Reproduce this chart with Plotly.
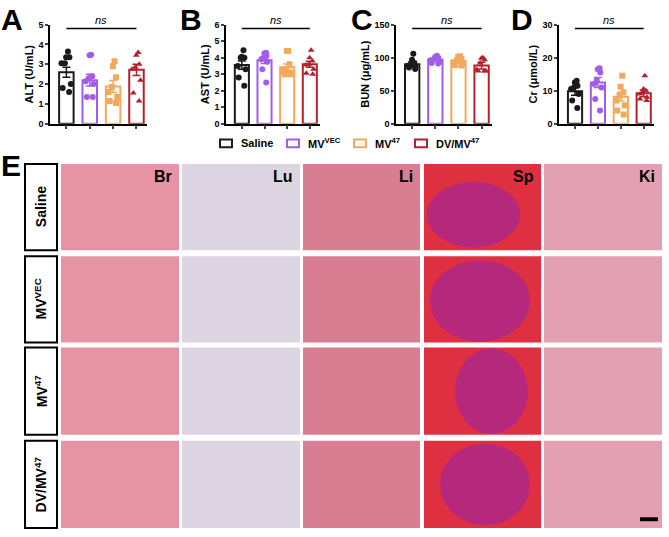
import plotly.graph_objects as go

W, H = 669, 537

groups = ["Saline", "MV<sup>VEC</sup>", "MV<sup>47</sup>", "DV/MV<sup>47</sup>"]
colors = ["#1a1a1a", "#A35BEA", "#F2A95C", "#B3222C"]
symbols = ["circle", "circle", "square", "triangle-up"]

# ALT (U/mL)
alt_mean = [2.6, 2.2, 1.88, 2.72]
alt_sem = [0.25, 0.3, 0.3, 0.28]
alt_pts = [
    [3.65, 3.35, 3.35, 3.05, 3.05, 2.0, 1.8, 1.6],
    [3.48, 3.45, 2.4, 2.3, 2.15, 2.0, 1.35, 1.35],
    [3.15, 2.9, 2.35, 1.85, 1.6, 1.35, 1.15, 1.05],
    [3.6, 3.45, 3.0, 2.85, 2.75, 2.2, 1.55, 1.15],
]
# AST (U/mL)
ast_mean = [3.55, 3.85, 3.42, 3.6]
ast_sem = [0.25, 0.2, 0.2, 0.18]
ast_pts = [
    [4.45, 4.05, 4.0, 4.0, 3.5, 3.3, 2.8, 2.3],
    [4.3, 4.25, 4.1, 4.0, 3.9, 3.75, 3.3, 2.5],
    [4.4, 4.4, 3.6, 3.3, 3.2, 3.1, 3.0, 3.0],
    [4.45, 4.0, 3.8, 3.6, 3.55, 3.3, 3.05, 3.0],
]
# BUN (ug/mL)
bun_mean = [90, 97, 95, 88]
bun_sem = [4, 2, 3, 5]
bun_pts = [
    [106, 97, 92, 90, 88, 86, 85, 83],
    [103, 101, 100, 98, 96, 94, 92, 91],
    [102, 101, 98, 96, 93, 91, 89, 88],
    [100, 99, 97, 92, 82, 80, 80, 80],
]
# Cr (umol/L)
cr_mean = [9.8, 12.5, 8.2, 9.2]
cr_sem = [1.2, 1.5, 1.3, 1.0]
cr_pts = [
    [13, 12.5, 11.5, 11, 10.5, 9, 7, 4.8],
    [16.8, 16.5, 15.5, 13.2, 12, 11, 7.5, 4],
    [14.5, 11.2, 9.5, 8.5, 7, 5.5, 4, 2.8],
    [14.5, 10.5, 10, 9.5, 9, 8, 7.5, 7],
]

panels = [
    ("A", "ALT (U/mL)", 5, 1, alt_mean, alt_sem, alt_pts, 50, 147, 12),
    ("B", "AST (U/mL)", 6, 1, ast_mean, ast_sem, ast_pts, 226, 320, 191),
    ("C", "BUN (μg/mL)", 150, 50, bun_mean, bun_sem, bun_pts, 396, 492, 362),
    ("D", "Cr (μmol/L)", 30, 10, cr_mean, cr_sem, cr_pts, 559, 654, 522),
]

organs = ["Br", "Lu", "Li", "Sp", "Ki"]
organ_colors = ["#E593A5", "#DDD6E2", "#D97D93", "#DE3040", "#E3A0B3"]
col_x = [(61, 179), (182, 300), (303, 420), (424, 541), (544, 662)]
row_y = [(162, 250), (256, 344), (349, 438), (444, 533)]
spleen_blob = [(427, 180, 520, 247), (430, 260, 530, 343), (455, 350, 528, 437), (440, 447, 530, 530)]

FONT = "Arial, Liberation Sans, sans-serif"


def px(x):
    return x / W


def py(y):
    return 1 - y / H


def note(x, y, text, size, **kw):
    d = dict(x=x, y=y, xref="paper", yref="paper", text=text, showarrow=False,
             xanchor="center", yanchor="middle",
             font=dict(size=size, family=FONT, color="black", weight="bold"))
    d.update(kw)
    return d


fig = go.Figure()
shapes = []
annotations = []
layout = {}

for i, (letter, title, ymax, dtick, mean, sem, pts, x0, x1, lx) in enumerate(panels):
    n = "" if i == 0 else str(i + 1)
    xa, ya = "x" + n, "y" + n
    for g in range(4):
        fig.add_trace(go.Bar(
            x=[groups[g]], y=[mean[g]], xaxis=xa, yaxis=ya, width=0.62,
            marker=dict(color="white", line=dict(color=colors[g], width=2)),
            error_y=dict(type="data", array=[sem[g]], color=colors[g], thickness=1.5, width=4),
            showlegend=False,
        ))
    for g in range(4):
        fig.add_trace(go.Box(
            x=[groups[g]] * len(pts[g]), y=pts[g], xaxis=xa, yaxis=ya,
            boxpoints="all", jitter=0.9, pointpos=0, width=0.55,
            fillcolor="rgba(0,0,0,0)", line=dict(color="rgba(0,0,0,0)", width=0),
            marker=dict(color=colors[g], symbol=symbols[g], size=6),
            showlegend=False,
        ))
    layout["xaxis" + n] = dict(
        domain=[px(x0), px(x1)], anchor=ya, type="category", categoryarray=groups,
        range=[-0.7, 3.45], showline=True, linecolor="black", linewidth=1.5,
        ticks="outside", ticklen=4, tickwidth=1.5, showticklabels=False, showgrid=False,
    )
    layout["yaxis" + n] = dict(
        domain=[py(121), py(20)], anchor=xa, range=[0, ymax], dtick=dtick,
        showline=True, linecolor="black", linewidth=1.5, ticks="outside", ticklen=3,
        tickwidth=1.5, showgrid=False, zeroline=False,
        tickfont=dict(size=9, family=FONT, color="black", weight="bold"),
        title=dict(text=title, standoff=3, font=dict(size=11, family=FONT, color="black", weight="bold")),
    )
    annotations.append(note(px(lx), py(15), letter, 30))
    shapes.append(dict(type="line", xref=xa, yref="paper", x0=groups[0], x1=groups[3],
                       y0=py(24), y1=py(24), line=dict(color="black", width=1.5)))
    annotations.append(note(1.5, py(15), "<i>ns</i>", 11, xref=xa,
                            font=dict(size=11, family=FONT, color="black")))

# legend
leg_x = [220, 287, 354, 415]
for g in range(4):
    shapes.append(dict(type="rect", xref="paper", yref="paper",
                       x0=px(leg_x[g]), x1=px(leg_x[g] + 12), y0=py(145), y1=py(137),
                       line=dict(color=colors[g], width=2), fillcolor="white"))
    annotations.append(note(px(leg_x[g] + 19), py(141), groups[g], 11, xanchor="left"))

# panel E: histology grid drawn as tinted tiles
annotations.append(note(px(11), py(164), "E", 30))
for r, (y0, y1) in enumerate(row_y):
    shapes.append(dict(type="rect", xref="paper", yref="paper", x0=px(25), x1=px(57),
                       y0=py(y1), y1=py(y0), line=dict(color="black", width=2), fillcolor="white"))
    annotations.append(note(px(41), py((y0 + y1) / 2), groups[r], 14, textangle=-90))
    for c, (x0, x1) in enumerate(col_x):
        shapes.append(dict(type="rect", xref="paper", yref="paper", x0=px(x0), x1=px(x1),
                           y0=py(y1), y1=py(y0), line=dict(width=0), fillcolor=organ_colors[c],
                           layer="below"))
    bx0, by0, bx1, by1 = spleen_blob[r]
    shapes.append(dict(type="circle", xref="paper", yref="paper", x0=px(bx0), x1=px(bx1),
                       y0=py(by1), y1=py(by0), line=dict(width=0), fillcolor="#B5287C",
                       layer="below"))

for c, (x0, x1) in enumerate(col_x):
    annotations.append(note(px(x1 - 5), py(175), organs[c], 16, xanchor="right"))

# scale bar
shapes.append(dict(type="rect", xref="paper", yref="paper", x0=px(640), x1=px(658),
                   y0=py(526), y1=py(522), line=dict(width=0), fillcolor="black"))

fig.update_layout(
    width=W, height=H, margin=dict(l=0, r=0, t=0, b=0),
    paper_bgcolor="white", plot_bgcolor="rgba(0,0,0,0)",
    barmode="overlay", boxmode="overlay", showlegend=False,
    shapes=shapes, annotations=annotations, **layout,
)
fig.write_html("out.html", config={"displayModeBar": False},
               post_script="document.body.style.margin='0';document.body.style.overflow='hidden';")
